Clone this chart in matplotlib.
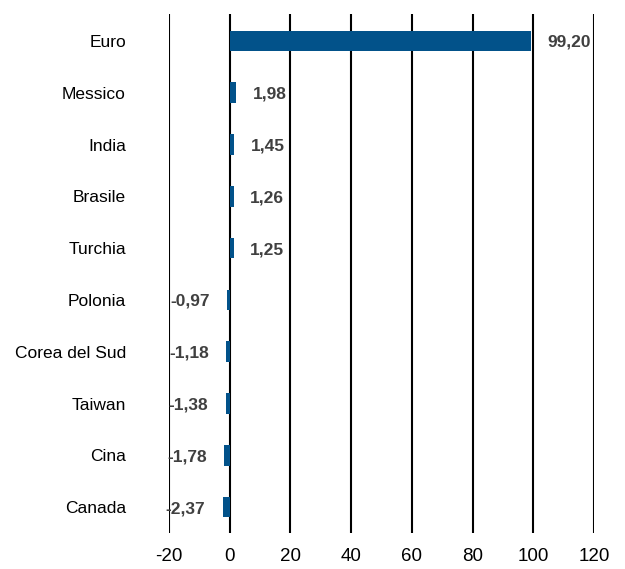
import numpy as np
import matplotlib.pyplot as plt

plt.rcParams["font.family"] = ["Liberation Sans", "DejaVu Sans"]

paesi = ["Euro", "Messico", "India", "Brasile", "Turchia",
         "Polonia", "Corea del Sud", "Taiwan", "Cina", "Canada"]
valori = np.array([99.20, 1.98, 1.45, 1.26, 1.25,
                   -0.97, -1.18, -1.38, -1.78, -2.37])
xticks = [-20, 0, 20, 40, 60, 80, 100, 120]

fig = plt.figure(figsize=(6.25, 5.69), dpi=100)
ax = fig.add_axes([169 / 625, 1 - 533 / 569, (594 - 169) / 625, (533 - 14) / 569])

y = np.arange(len(paesi))
ax.barh(y, valori, height=0.4, color="#02528a", zorder=3)

for yi, v in zip(y, valori):
    txt = f"{v:.2f}".replace(".", ",")
    if v >= 0:
        ax.annotate(txt, (v, yi), xytext=(12, 0), textcoords="offset points",
                    ha="left", va="center_baseline", fontsize=12.5,
                    fontweight="bold", color="#404040", zorder=4)
    else:
        ax.annotate(txt, (v, yi), xytext=(-12.5, 0), textcoords="offset points",
                    ha="right", va="center_baseline", fontsize=12.5,
                    fontweight="bold", color="#404040", zorder=4)

ax.set_xlim(-20, 120)
ax.set_ylim(9.5, -0.52)
ax.set_xticks(xticks)
ax.set_xticklabels([str(t) for t in xticks])
ax.set_yticks(y)
ax.set_yticklabels(paesi)
ax.tick_params(axis="both", length=0, colors="black")
ax.tick_params(axis="y", pad=31, labelsize=12.5)
ax.tick_params(axis="x", pad=11, labelsize=13.5)
ax.xaxis.grid(True, color="black", linewidth=1.5, zorder=0)
for s in ax.spines.values():
    s.set_visible(False)

fig.savefig("out.png", dpi=100)
